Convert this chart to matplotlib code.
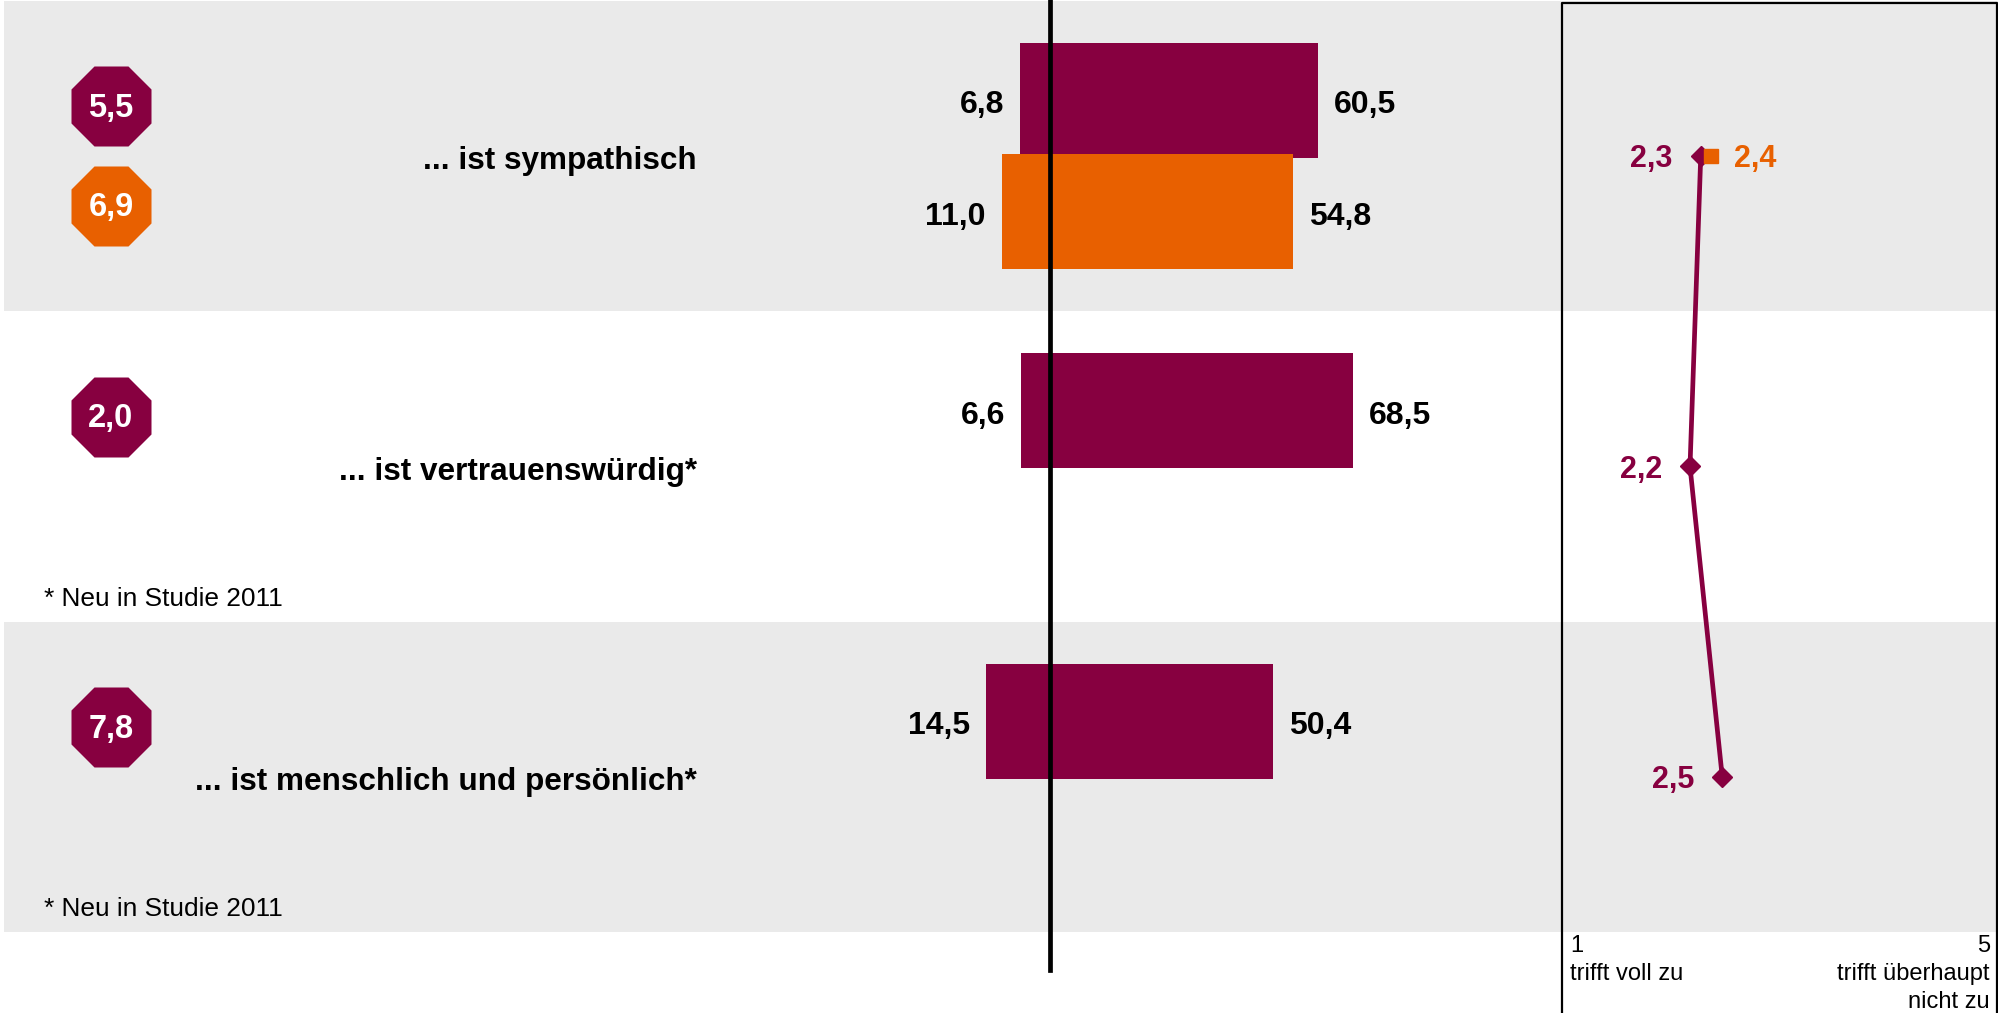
import matplotlib
matplotlib.use('Agg')
import matplotlib.pyplot as plt
from matplotlib.lines import Line2D

plt.rcParams['font.family'] = ['Liberation Sans', 'DejaVu Sans']

# --- data ---------------------------------------------------------------
categories = ['... ist sympathisch',
              '... ist vertrauenswürdig*',
              '... ist menschlich und persönlich*']
neg_2011 = [6.8, 6.6, 14.5]      # share disagreeing (left of zero)
pos_2011 = [60.5, 68.5, 50.4]    # share agreeing (right of zero)
neg_2010 = [11.0, None, None]
pos_2010 = [54.8, None, None]
badge_2011 = [5.5, 2.0, 7.8]
badge_2010 = [6.9, None, None]
mean_2011 = [2.3, 2.2, 2.5]      # mean on 1..5 scale
mean_2010 = [2.4, None, None]
footnote_rows = [1, 2]
footnote = '* Neu in Studie 2011'
scale_left = '1\ntrifft voll zu'
scale_right = '5\ntrifft überhaupt\nnicht zu'

MAROON = '#870040'
ORANGE = '#E86000'
BAND = '#EAEAEA'

W, H = 1999, 1013
fig = plt.figure(figsize=(W / 100, H / 100), dpi=100)

# rows: centre of row i sits at 156 + 310.5*i pixels from the top
ROW_PX = 310.5
ROW_TOP = -156 / ROW_PX
ROW_BOT = (H - 156) / ROW_PX
ylim = (ROW_BOT, ROW_TOP)
TXT_DY = 5 / ROW_PX   # small downward nudge for text centring


def fmt(v):
    return f'{v:.1f}'.replace('.', ',')


# background / label layer (x in pixels, y in row units)
bg = fig.add_axes([0, 0, 1, 1])
bg.set_xlim(0, W)
bg.set_ylim(*ylim)
bg.axis('off')
for i in range(len(categories)):
    if i % 2 == 0:
        bg.axhspan(i - 0.5, i + 0.5, xmin=4 / W, xmax=1, color=BAND, lw=0, zorder=0)

# category labels
for i, cat in enumerate(categories):
    bg.text(697, i + TXT_DY, cat, ha='right', va='center', fontsize=22.7,
            fontweight='bold', color='black', zorder=3)

# footnotes
for i in footnote_rows:
    bg.text(44, i + 0.41 + TXT_DY, footnote, ha='left', va='center', fontsize=18.9,
            color='black', zorder=3)

# octagon badges
BADGE_FS = 23.5
for i, v in enumerate(badge_2011):
    y = i - 0.16
    bg.plot([111], [y], marker='8', ms=62.3, color=MAROON, mec='none', ls='none', zorder=2)
    bg.text(111, y + 2 / ROW_PX, fmt(v), ha='center', va='center', color='white',
            fontsize=BADGE_FS, fontweight='bold', zorder=3)
for i, v in enumerate(badge_2010):
    if v is None:
        continue
    y = i + 0.16
    bg.plot([111], [y], marker='8', ms=62.3, color=ORANGE, mec='none', ls='none', zorder=2)
    bg.text(111, y + 2 / ROW_PX, fmt(v), ha='center', va='center', color='white',
            fontsize=BADGE_FS, fontweight='bold', zorder=3)

# --- diverging bars ---------------------------------------------------------
PX_PER_UNIT = 4.42
ZERO_PX = 1050.5
axb = fig.add_axes([0, 0, 1, 1])
axb.set_xlim(-ZERO_PX / PX_PER_UNIT, (W - ZERO_PX) / PX_PER_UNIT)
axb.set_ylim(*ylim)
axb.axis('off')
axb.patch.set_alpha(0)

OFF, BH = 0.18, 0.37


def draw_bars(neg, pos, offset, color):
    for i, (n, p) in enumerate(zip(neg, pos)):
        if n is None:
            continue
        y = i + offset
        axb.barh(y, n + p, left=-n, height=BH, color=color, lw=0, zorder=2)
        axb.annotate(fmt(n), (-n, y), xytext=(-16, -5), textcoords='offset pixels',
                     ha='right', va='center', fontsize=23, fontweight='bold')
        axb.annotate(fmt(p), (p, y), xytext=(16, -5), textcoords='offset pixels',
                     ha='left', va='center', fontsize=23, fontweight='bold')


draw_bars(neg_2011, pos_2011, -OFF, MAROON)
draw_bars(neg_2010, pos_2010, OFF, ORANGE)
axb.axvline(0, ymin=1 - 970 / H, ymax=1, color='black', lw=3.4, zorder=4)

# --- mean profile on the right ------------------------------------------------
x0, x1 = 1561, 1998
axr = fig.add_axes([x0 / W, 0, (x1 - x0) / W, 1])
axr.set_xlim(1, 1 + 4 * (x1 - x0) / 430)   # scale 1..5 spans 430 px
axr.set_ylim(*ylim)
axr.axis('off')
axr.patch.set_alpha(0)

rows = list(range(len(mean_2011)))
axr.plot(mean_2011, rows, color=MAROON, lw=3.4, marker='D', ms=10,
         mec=MAROON, zorder=3)
for i, v in enumerate(mean_2011):
    axr.annotate(fmt(v), (v, i), xytext=(-28, -3), textcoords='offset pixels',
                 ha='right', va='center', fontsize=22, fontweight='bold', color=MAROON)
for i, v in enumerate(mean_2010):
    if v is None:
        continue
    axr.plot([v], [i], marker='s', ms=10, color=ORANGE, ls='none', zorder=3)
    axr.annotate(fmt(v), (v, i), xytext=(23, -3), textcoords='offset pixels',
                 ha='left', va='center', fontsize=22, fontweight='bold', color=ORANGE)

# panel frame (open at the bottom)
ytop = 1 - 3 / H
fig.add_artist(Line2D([(x0 + 0.5) / W, (x0 + 0.5) / W, (x1 - 0.5) / W, (x1 - 0.5) / W],
                      [0, ytop, ytop, 0], transform=fig.transFigure,
                      color='black', lw=1.6))

# scale end labels
fig.text(1570 / W, 1 - 935 / H, scale_left, ha='left', va='top', fontsize=17,
         linespacing=1.34)
fig.text(1990 / W, 1 - 935 / H, scale_right, ha='right', va='top', fontsize=17,
         multialignment='right', linespacing=1.34)

fig.savefig('out.png', dpi=100)
